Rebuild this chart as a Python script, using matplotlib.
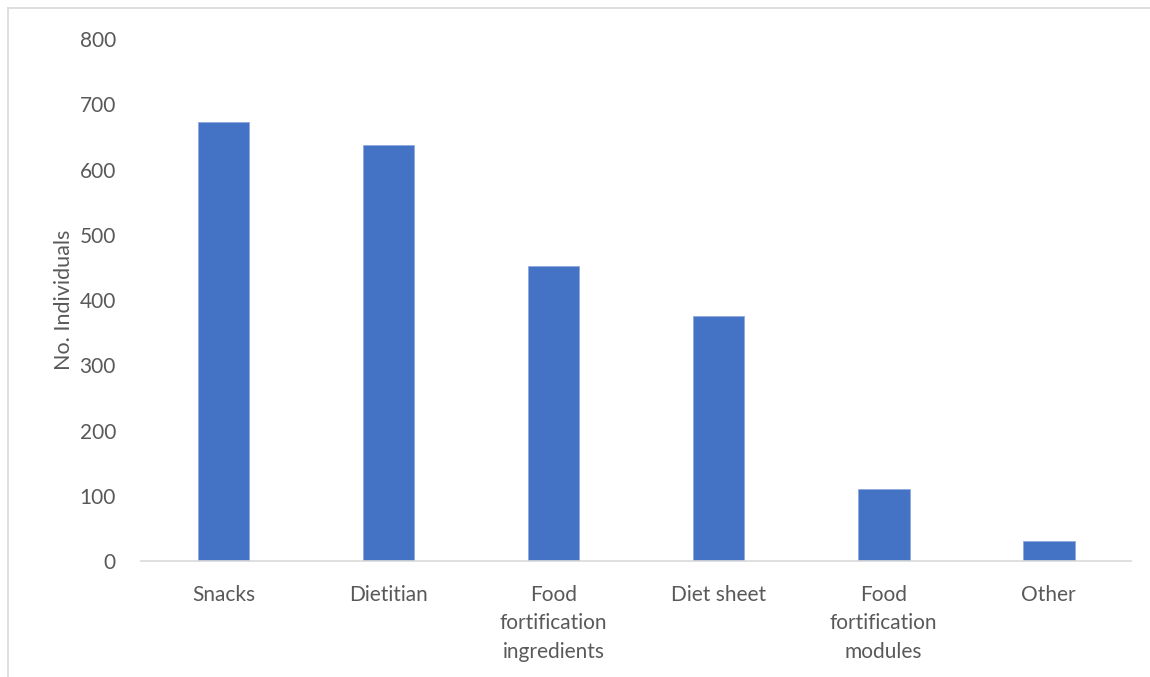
import matplotlib
matplotlib.use("Agg")
import matplotlib.pyplot as plt
from matplotlib.lines import Line2D

# responses per support type
categories = ["Snacks", "Dietitian", "Food\nfortification\ningredients",
              "Diet sheet", "Food\nfortification\nmodules", "Other"]
counts = [673, 637, 452, 375, 110, 30]
y_ticks = [0, 100, 200, 300, 400, 500, 600, 700, 800]

bar_color = "#4472c4"
text_color = "#595959"
line_color = "#d9d9d9"

plt.rcParams["font.family"] = ["Lato", "DejaVu Sans"]

fig = plt.figure(figsize=(11.5, 6.77), dpi=100)
ax = fig.add_axes([0.1226, 0.1713, 0.8609, 0.7711])

x = range(len(categories))
ax.bar(x, counts, width=0.315, color=bar_color, edgecolor="#8faadc", linewidth=0.6)

ax.set_xlim(-0.5, len(categories) - 0.5)
ax.set_ylim(0, 800)
ax.set_yticks(y_ticks)
ax.set_xticks(list(x))
ax.set_xticklabels(categories, linespacing=1.55, va="top")

for side in ["top", "right", "left"]:
    ax.spines[side].set_visible(False)
ax.spines["bottom"].set_color(line_color)
ax.spines["bottom"].set_linewidth(1.2)

ax.tick_params(axis="both", length=0, labelsize=15, colors=text_color)
ax.tick_params(axis="y", pad=18)
ax.tick_params(axis="x", pad=17)

ax.set_ylabel("No. Individuals", fontsize=15.5, color=text_color)
ax.yaxis.set_label_coords(-0.068, 0.5)

# outer chart frame
fig.add_artist(Line2D([8 / 1150, 1.0], [1 - 8 / 677, 1 - 8 / 677],
                      color=line_color, linewidth=1.2, transform=fig.transFigure))
fig.add_artist(Line2D([8 / 1150, 8 / 1150], [0.0, 1 - 8 / 677],
                      color=line_color, linewidth=1.2, transform=fig.transFigure))

fig.savefig("out.png", dpi=100, facecolor="white")
